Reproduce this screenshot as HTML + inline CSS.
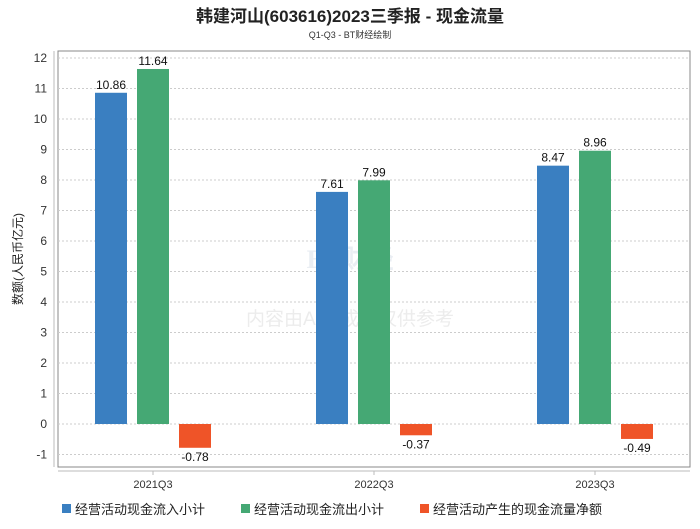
<!DOCTYPE html>
<html><head><meta charset="utf-8"><style>
body{margin:0;background:#fff;font-family:"Liberation Sans","Noto Sans CJK SC",sans-serif;}
</style></head><body>
<svg width="700" height="524" xmlns="http://www.w3.org/2000/svg" style="font-family:'Liberation Sans','Noto Sans CJK SC',sans-serif">
<text x="350" y="22" text-anchor="middle" font-size="17" font-weight="bold" fill="#222">韩建河山(603616)2023三季报 - 现金流量</text>
<text x="350" y="38" text-anchor="middle" font-size="9" fill="#333">Q1-Q3 - BT财经绘制</text>
<rect x="58" y="51" width="632" height="416" fill="none" stroke="#888" stroke-width="1"/>
<line x1="54" y1="51" x2="54" y2="467" stroke="#bbb"/>
<line x1="58" y1="471" x2="690" y2="471" stroke="#bbb"/>
<g id="grid"></g>
<text x="350" y="268" text-anchor="middle" font-size="26" font-weight="bold" fill="#eaeef3" font-family="Liberation Serif,serif">BT财经</text>
<text x="350" y="325" text-anchor="middle" font-size="19" fill="#ececec">内容由AI生成，仅供参考</text>
<g id="yt"></g><g id="bars"></g><g id="xt"></g>
<text transform="translate(22,259) rotate(-90)" text-anchor="middle" font-size="12" fill="#222">数额(人民币亿元)</text>
<g font-size="13" fill="#222">
<rect x="62" y="504" width="9" height="9" fill="#3a7fc1"/>
<text x="75" y="514">经营活动现金流入小计</text>
<rect x="241" y="504" width="9" height="9" fill="#45a874"/>
<text x="254" y="514">经营活动现金流出小计</text>
<rect x="420" y="504" width="9" height="9" fill="#ef5428"/>
<text x="433" y="514">经营活动产生的现金流量净额</text>
</g>
</svg>
<script>
const categories=["2021Q3","2022Q3","2023Q3"];
const inflow=[10.86,7.61,8.47];
const outflow=[11.64,7.99,8.96];
const net=[-0.78,-0.37,-0.49];
const yTicks=[-1,0,1,2,3,4,5,6,7,8,9,10,11,12];
const NS="http://www.w3.org/2000/svg";
const y=v=>424-v*30.5;
const xc=i=>153+i*221;
function mk(t,a,p){const e=document.createElementNS(NS,t);for(const k in a)e.setAttribute(k,a[k]);p.appendChild(e);return e;}
const grid=document.getElementById('grid'),yt=document.getElementById('yt'),bars=document.getElementById('bars'),xt=document.getElementById('xt');
yTicks.forEach(v=>{
 const l=mk('line',{x1:58,x2:690,y1:y(v),y2:y(v),stroke:'#ccc','stroke-dasharray':'2,2'},grid);
 
 
 const t=mk('text',{x:47,y:y(v)+4,'text-anchor':'end','font-size':12,fill:'#333'},yt);t.textContent=v;
 
 
});
const series=[[inflow,'#3a7fc1','inflow'],[outflow,'#45a874','outflow'],[net,'#ef5428','net']];
categories.forEach((c,i)=>{
 series.forEach(([arr,col,nm],s)=>{
  const v=arr[i],cx=xc(i)+(s-1)*42,top=Math.min(y(v),y(0)),h=Math.abs(y(v)-y(0));
  const r=mk('rect',{x:cx-16,y:top,width:32,height:h,fill:col},bars);
  
  
  const t=mk('text',{x:cx,y:v>=0?y(v)-4:y(v)+13,'text-anchor':'middle','font-size':12,fill:'#111'},bars);t.textContent=v.toFixed(2);
  
  
 });
 const tk=mk('line',{x1:xc(i),x2:xc(i),y1:471,y2:475,stroke:'#bbb'},xt);
 
 
 const t=mk('text',{x:xc(i),y:488,'text-anchor':'middle','font-size':11,fill:'#333'},xt);t.textContent=c;
 
 
});
</script>
</body></html>
